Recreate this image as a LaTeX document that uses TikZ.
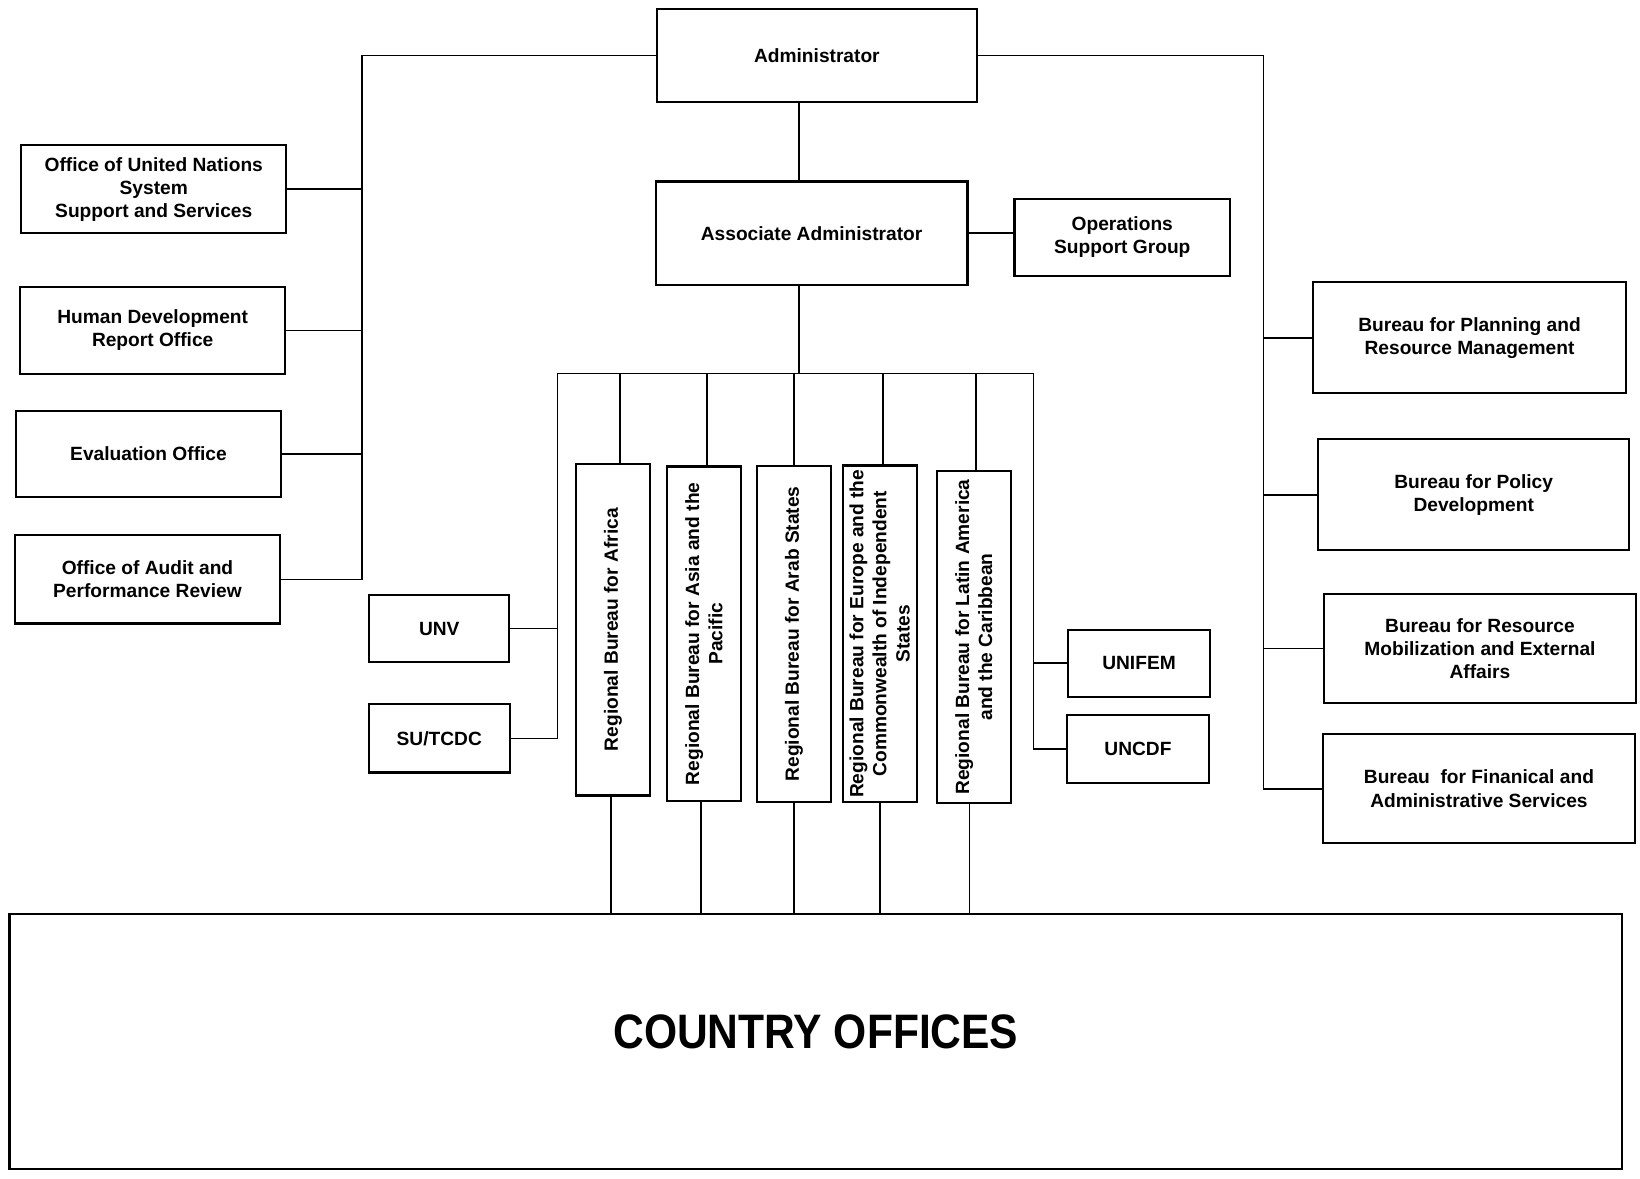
\documentclass[tikz,border=0pt]{standalone}
\usepackage{graphicx}
\usepackage{fontspec}
\setmainfont{Liberation Sans}
\usetikzlibrary{positioning,calc}

\begin{document}
\begin{tikzpicture}[x=0.0209cm, y=-0.0209cm,
    box/.style={rectangle, draw, line width=1.2pt, inner sep=2pt, align=center, font=\fontsize{10.9}{13.1}\selectfont\bfseries},
    rbox/.style={box, rotate=90, minimum height=1.48cm},
    link/.style={line width=1pt}
]
\useasboundingbox (0,0) rectangle (1568,1127);

% top
\node[box, minimum width=6.40cm, minimum height=1.86cm] (admin) at (781,53) {Administrator};
\node[box, minimum width=6.23cm, minimum height=2.07cm] (assoc) at (776,223) {Associate Administrator};
\node[box, minimum width=4.31cm, minimum height=1.55cm] (osg) at (1073,227) {Operations\\Support Group};

% left offices
\node[box, minimum width=5.29cm, minimum height=1.76cm] (ouns) at (147,181) {Office of United Nations\\System\\ Support and Services};
\node[box, minimum width=5.29cm, minimum height=1.73cm] (hdro) at (146,316) {Human Development\\Report Office};
\node[box, minimum width=5.31cm, minimum height=1.73cm] (eval) at (142,434) {Evaluation Office};
\node[box, minimum width=5.29cm, minimum height=1.76cm] (audit) at (141,554) {Office of Audit and\\Performance Review};

% right bureaux
\node[box, minimum width=6.25cm, minimum height=2.22cm] (planning) at (1405,323) {Bureau for Planning and\\Resource Management};
\node[box, minimum width=6.21cm, minimum height=2.22cm] (policy) at (1409,473) {Bureau for Policy\\Development};
\node[box, minimum width=6.23cm, minimum height=2.17cm] (resmob) at (1415,620) {Bureau for Resource\\Mobilization and External\\Affairs};
\node[box, minimum width=6.23cm, minimum height=2.19cm] (finance) at (1414,754) {Bureau\ \ for Finanical and\\Administrative Services};

% funds
\node[box, minimum width=2.80cm, minimum height=1.34cm] (unv) at (420,601) {UNV};
\node[box, minimum width=2.82cm, minimum height=1.36cm] (sutcdc) at (420,706) {SU/TCDC};
\node[box, minimum width=2.84cm, minimum height=1.34cm] (unifem) at (1089,634) {UNIFEM};
\node[box, minimum width=2.84cm, minimum height=1.36cm] (uncdf) at (1088,716) {UNCDF};

% regional bureaux
\node[rbox, minimum width=6.63cm] (africa) at (586,602) {Regional Bureau for Africa};
\node[rbox, minimum width=6.69cm] (asia) at (673,606) {Regional Bureau for Asia and the\\Pacific};
\node[rbox, minimum width=6.71cm] (arab) at (759,606) {Regional Bureau for Arab States};
\node[rbox, minimum width=6.73cm] (europe) at (841,606) {Regional Bureau for Europe and the\\Commonwealth of Independent\\States};
\node[rbox, minimum width=6.65cm] (latin) at (931,609) {Regional Bureau for Latin America\\and the Caribbean};

\node[box, minimum width=32.23cm, minimum height=5.10cm, text depth=12pt, font=\fontsize{27.5}{30}\selectfont\bfseries] (country) at (780,996) {\scalebox{0.88}[1]{COUNTRY OFFICES}};

% spines
\coordinate (lspine) at (346,0);
\coordinate (rspine) at (1208,0);
\coordinate (hub) at (764,357);
\coordinate (barl) at (533,357);
\coordinate (barr) at (988,357);

\draw[link] (admin.west) -| (audit.east -| lspine) -- (audit.east);
\draw[link] (admin.east) -| (finance.west -| rspine) -- (finance.west);
\foreach \b in {ouns,hdro,eval}
    \draw[link] (\b.east) -- (\b.east -| lspine);
\foreach \b in {planning,policy,resmob}
    \draw[link] (\b.west) -- (\b.west -| rspine);

\draw[link] (hub |- admin.south) -- (hub |- assoc.north);
\draw[link] (hub |- assoc.south) -- (hub);
\draw[link] (assoc.east) -- (assoc.east -| osg.west);

\draw[link] (sutcdc.east) -| (barl) -- (barr) |- (uncdf.west);
\draw[link] (unv.east) -- (unv.east -| barl);
\draw[link] (unifem.west) -- (unifem.west -| barr);

% drops above and below the regional bureaux
\foreach \r/\t/\u in {africa/7/-2, asia/3/-3, arab/0/0, europe/3/0, latin/2/-4}{
    \draw[link] ($(\r.east)+(\t,0)$) -- ($(\r.east |- hub)+(\t,0)$);
    \draw[link] ($(\r.west)+(\u,0)$) -- ($(\r.west |- country.north)+(\u,0)$);
}
\end{tikzpicture}
\end{document}
